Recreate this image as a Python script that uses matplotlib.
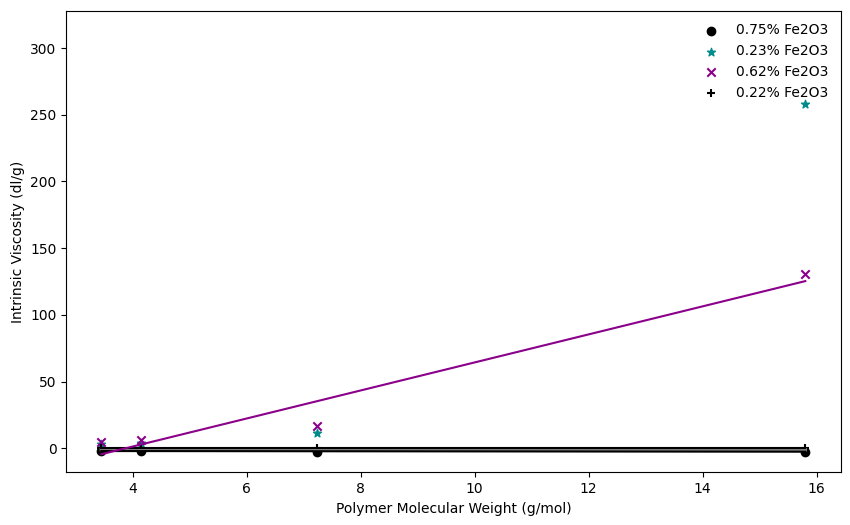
import numpy as np
import matplotlib
matplotlib.use("Agg")
import matplotlib.pyplot as plt

mol_weight = [3.45, 4.15, 7.23, 15.8]
visc_075 = [-2.0, -2.0, -2.5, -2.5]
visc_023 = [3.0, 4.0, 11.7, 258.0]
visc_062 = [4.8, 6.5, 17.0, 130.7]
visc_022 = [0.2, 0.2, 0.2, 0.2]
labels = ["0.75% Fe2O3", "0.23% Fe2O3", "0.62% Fe2O3", "0.22% Fe2O3"]

fig = plt.figure(figsize=(8.5, 5.25), dpi=100)
ax = fig.add_axes([0.078, 0.1004, 0.911, 0.8792])

x = np.array(mol_weight)

ax.scatter(x, visc_075, color="black", marker="o", label=labels[0])
ax.scatter(x, visc_023, color="darkcyan", marker="*", label=labels[1])
ax.scatter(x, visc_062, color="darkmagenta", marker="x", label=labels[2])
ax.scatter(x, visc_022, color="black", marker="+", label=labels[3])

# linear fits
p075 = np.polyfit(x, visc_075, 1)
p062 = np.polyfit(x, visc_062, 1)
p022 = np.polyfit(x, visc_022, 1)
mid = (np.polyval(p075, x) + np.polyval(p022, x)) / 2
ax.plot(x, mid, color="gray", linewidth=2.5, zorder=1)
ax.plot(x, np.polyval(p075, x), color="black", linewidth=1.5, zorder=1)
ax.plot(x, np.polyval(p022, x), color="black", linewidth=1.5, zorder=1)
ax.plot(x, np.polyval(p062, x), color="darkmagenta", linewidth=1.5, zorder=1)

ax.set_xlim(2.835, 16.42)
ax.set_ylim(-18, 328)
ax.set_xlabel("Polymer Molecular Weight (g/mol)")
ax.set_ylabel("Intrinsic Viscosity (dl/g)")
ax.legend(loc="upper right", frameon=False)

fig.savefig("out.png", dpi=100)
